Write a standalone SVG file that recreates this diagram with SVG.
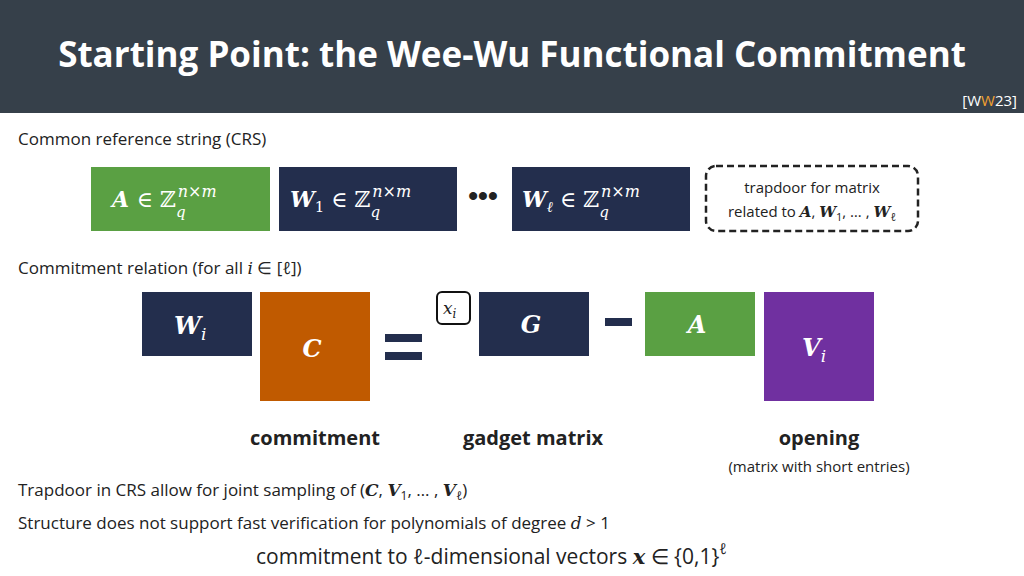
<svg xmlns="http://www.w3.org/2000/svg" width="1024" height="576" viewBox="0 0 1024 576">
<style>
.t{font-family:"Open Sans","Liberation Sans",sans-serif;fill:#222}
.m{font-family:"DejaVu Serif","Liberation Serif",serif;font-style:italic;fill:#fff}
.mb{font-family:"DejaVu Serif","Liberation Serif",serif;font-style:italic;font-weight:bold}
.w{fill:#fff}
.b{font-weight:bold}
</style>
<rect width="1024" height="576" fill="#fff"/>
<rect width="1024" height="113" fill="#36404a"/>
<text x="512" y="67" text-anchor="middle" class="t b" style="fill:#fff" font-size="35">Starting Point: the Wee-Wu Functional Commitment</text>
<text x="1017" y="106" text-anchor="end" class="t" style="fill:#fff" font-size="15">[W<tspan fill="#f0a030">W</tspan>23]</text>
<text x="18" y="145" class="t" font-size="17">Common reference string (CRS)</text>
<g id="crsA"><rect x="91" y="167" width="179" height="64" fill="#5aa043"/><text x="112" y="207" class="mb" fill="#fff" font-size="22">A <tspan font-weight="normal" font-style="normal">∈ ℤ</tspan><tspan font-size="15" dy="10" font-weight="normal">q</tspan><tspan font-size="16" dy="-20" dx="-8" font-weight="normal">n×m</tspan></text></g>
<g id="crsW1"><rect x="279" y="167" width="178" height="64" fill="#232e4d"/><text x="290" y="207" class="mb" fill="#fff" font-size="22">W<tspan font-size="15" dy="5" font-style="normal" font-weight="normal">1</tspan><tspan dy="-5" font-weight="normal" font-style="normal"> ∈ ℤ</tspan><tspan font-size="15" dy="10" font-weight="normal">q</tspan><tspan font-size="16" dy="-20" dx="-8" font-weight="normal">n×m</tspan></text></g>
<text x="483" y="205" text-anchor="middle" font-family="Liberation Sans,sans-serif" font-size="28" font-weight="bold" fill="#222">•••</text>
<g id="crsWl"><rect x="512" y="167" width="178" height="64" fill="#232e4d"/><text x="522" y="207" class="mb" fill="#fff" font-size="22">W<tspan font-size="15" dy="5" font-weight="normal">ℓ</tspan><tspan dy="-5" font-weight="normal" font-style="normal"> ∈ ℤ</tspan><tspan font-size="15" dy="10" font-weight="normal">q</tspan><tspan font-size="16" dy="-20" dx="-8" font-weight="normal">n×m</tspan></text></g>
<g id="trapdoor"><rect x="706" y="166" width="212" height="65" rx="10" fill="#fff" stroke="#222" stroke-width="2.5" stroke-dasharray="7 4"/>
<text x="812" y="193" text-anchor="middle" class="t" font-size="15">trapdoor for matrix</text>
<text x="812" y="217" text-anchor="middle" class="t" font-size="15">related to <tspan class="mb" fill="#222">A</tspan>, <tspan class="mb" fill="#222">W</tspan><tspan font-size="11" dy="4">1</tspan><tspan dy="-4">, … , </tspan><tspan class="mb" fill="#222">W</tspan><tspan font-size="11" dy="4" font-style="italic">ℓ</tspan></text></g>
<text x="18" y="274" class="t" font-size="17">Commitment relation (for all <tspan font-style="italic" font-family="DejaVu Serif,serif">i</tspan> ∈ [<tspan font-style="italic">ℓ</tspan>])</text>
<g id="Wi"><rect x="142" y="292" width="110" height="64" fill="#232e4d"/><text x="174" y="334" class="mb" fill="#fff" font-size="24">W<tspan font-size="17" dy="6" font-weight="normal">i</tspan></text></g>
<g id="C"><rect x="260" y="292" width="110" height="109" fill="#c05a00"/><text x="312" y="357" text-anchor="middle" class="mb" fill="#fff" font-size="24">C</text></g>
<g id="eq"><rect x="385" y="334" width="37" height="8" fill="#232e4d"/><rect x="385" y="352" width="37" height="8" fill="#232e4d"/></g>
<g id="xi"><rect x="437" y="292" width="33" height="32" rx="5" fill="#fff" stroke="#111" stroke-width="2"/><text x="443" y="314" class="m" style="fill:#222" font-size="17">x<tspan font-size="12" dy="4">i</tspan></text></g>
<g id="G"><rect x="479" y="292" width="110" height="64" fill="#232e4d"/><text x="531" y="333" text-anchor="middle" class="mb" fill="#fff" font-size="24">G</text></g>
<rect x="605" y="318" width="27" height="8" fill="#232e4d"/>
<g id="A"><rect x="645" y="292" width="110" height="64" fill="#5aa043"/><text x="697" y="333" text-anchor="middle" class="mb" fill="#fff" font-size="24">A</text></g>
<g id="Vi"><rect x="764" y="292" width="110" height="109" fill="#7030a0"/><text x="802" y="356" class="mb" fill="#fff" font-size="24">V<tspan font-size="17" dy="6" font-weight="normal">i</tspan></text></g>
<g id="connectors"/>
<text x="315" y="445" text-anchor="middle" class="t b" font-size="20">commitment</text>
<text x="533" y="445" text-anchor="middle" class="t b" font-size="20">gadget matrix</text>
<text x="819" y="445" text-anchor="middle" class="t b" font-size="20">opening</text>
<text x="819" y="472" text-anchor="middle" class="t" font-size="15">(matrix with short entries)</text>
<text x="18" y="496" class="t" font-size="17">Trapdoor in CRS allow for joint sampling of (<tspan class="mb" fill="#222">C</tspan>, <tspan class="mb" fill="#222">V</tspan><tspan font-size="12" dy="4">1</tspan><tspan dy="-4">, … , </tspan><tspan class="mb" fill="#222">V</tspan><tspan font-size="12" dy="4" font-style="italic">ℓ</tspan><tspan dy="-4">)</tspan></text>
<text x="18" y="529" class="t" font-size="17">Structure does not support fast verification for polynomials of degree <tspan font-style="italic" font-family="DejaVu Serif,serif">d</tspan> &gt; 1</text>
<text x="256" y="564" class="t" font-size="21">commitment to <tspan font-style="italic">ℓ</tspan>-dimensional vectors <tspan class="mb" fill="#222">x</tspan> ∈ {0,1}<tspan font-size="15" dy="-10" font-style="italic">ℓ</tspan></text>
</svg>
